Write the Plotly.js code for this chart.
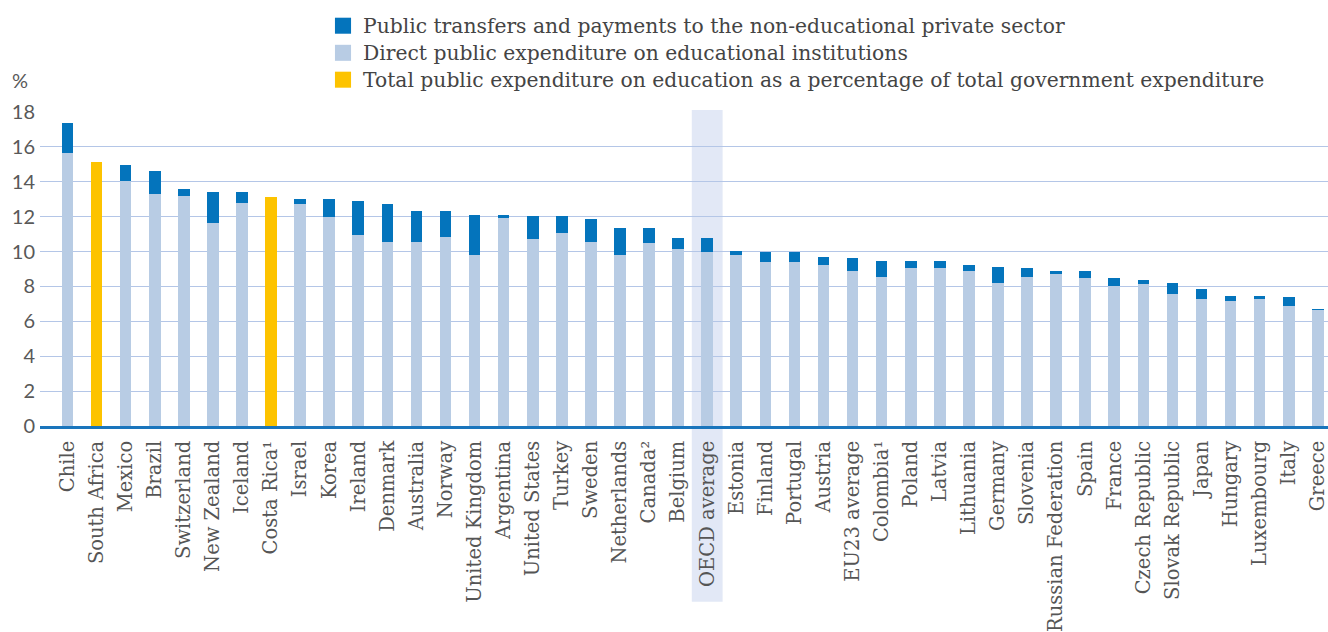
<!DOCTYPE html>
<html>
<head>
<meta charset="utf-8">
<script src="https://cdn.plot.ly/plotly-3.0.1.min.js"></script>
<style>html,body{margin:0;padding:0;background:#fff;}#chart{width:1328px;height:632px;}</style>
</head>
<body>
<div id="chart"></div>
<script>
var categories = ["Chile","South Africa","Mexico","Brazil","Switzerland","New Zealand","Iceland","Costa Rica¹","Israel","Korea","Ireland","Denmark","Australia","Norway","United Kingdom","Argentina","United States","Turkey","Sweden","Netherlands","Canada²","Belgium","OECD average","Estonia","Finland","Portugal","Austria","EU23 average","Colombia¹","Poland","Latvia","Lithuania","Germany","Slovenia","Russian Federation","Spain","France","Czech Republic","Slovak Republic","Japan","Hungary","Luxembourg","Italy","Greece"];

var directExpenditure = [15.63,null,14.05,13.29,13.21,11.61,12.79,null,12.70,11.97,10.96,10.54,10.54,10.81,9.80,11.90,10.70,11.04,10.54,9.80,10.47,10.12,9.95,9.80,9.40,9.40,9.23,8.88,8.54,9.06,9.06,8.87,8.22,8.54,8.71,8.48,8.05,8.14,7.57,7.30,7.15,7.30,6.88,6.63];

var transfersPrivate = [1.74,null,0.90,1.33,0.35,1.83,0.65,null,0.34,1.07,1.91,2.16,1.81,1.54,2.31,0.21,1.35,0.99,1.32,1.56,0.89,0.65,0.82,0.23,0.55,0.55,0.47,0.73,0.90,0.38,0.38,0.34,0.89,0.50,0.16,0.39,0.42,0.25,0.65,0.57,0.30,0.15,0.50,0.06];

var totalOnly = [null,15.12,null,null,null,null,null,13.10,null,null,null,null,null,null,null,null,null,null,null,null,null,null,null,null,null,null,null,null,null,null,null,null,null,null,null,null,null,null,null,null,null,null,null,null];

var seriesNames = ["Public transfers and payments to the non-educational private sector","Direct public expenditure on educational institutions","Total public expenditure on education as a percentage of total government expenditure"];
var seriesColors = ["#0474bc","#b8cce4","#fdc300"];
var highlightCategory = "OECD average";
var yTicks = [0,2,4,6,8,10,12,14,16,18];

var serif = "DejaVu Serif, serif";
var xIdx = categories.map(function(c, i){ return i; });

var traces = [
  {type:"bar", x:xIdx, y:directExpenditure, name:seriesNames[1], marker:{color:seriesColors[1]}, width:0.4, hoverinfo:"y"},
  {type:"bar", x:xIdx, y:transfersPrivate, name:seriesNames[0], marker:{color:seriesColors[0]}, width:0.4, hoverinfo:"y"},
  {type:"bar", x:xIdx, y:totalOnly, name:seriesNames[2], marker:{color:seriesColors[2]}, width:0.4, hoverinfo:"y"}
];

var hi = categories.indexOf(highlightCategory);
var shapes = [
  {type:"rect", xref:"x", yref:"paper", x0:hi-0.53, x1:hi+0.53, y0:-0.56, y1:1.006, fillcolor:"#e2e8f6", line:{width:0}, layer:"below"}
];
var annotations = [
  {xref:"paper", yref:"paper", x:-0.0155, y:1.1029, text:"%", showarrow:false, xanchor:"center", yanchor:"middle", font:{family:"Lato, sans-serif", size:20, color:"#595959"}}
];
var legendOrder = [0,1,2];
var legendY = [1.2748, 1.1885, 1.1029];
legendOrder.forEach(function(s, k){
  var yc = legendY[k];
  shapes.push({type:"rect", xref:"paper", yref:"paper", x0:0.2290, x1:0.2415, y0:yc-0.0255, y1:yc+0.0255, fillcolor:seriesColors[s], line:{width:0}});
  annotations.push({xref:"paper", yref:"paper", x:0.2492, y:yc, text:seriesNames[s], showarrow:false, xanchor:"left", yanchor:"middle", font:{family:serif, size:20.3, color:"#444444"}});
});

var layout = {
  width:1328, height:632,
  margin:{l:40, r:0, t:112, b:206},
  paper_bgcolor:"#ffffff", plot_bgcolor:"rgba(0,0,0,0)",
  barmode:"stack",
  showlegend:false,
  xaxis:{
    range:[-0.946, 43.35],
    tickmode:"array", tickvals:xIdx, ticktext:categories,
    tickangle:-90, ticks:"", showgrid:false, zeroline:false,
    showline:true, linecolor:"#1a75bc", linewidth:3,
    tickfont:{family:serif, size:19.5, color:"#555555"},
    ticklabelstandoff:4,
    ticklabeloverflow:"allow"
  },
  yaxis:{
    range:[0,18], tickmode:"array", tickvals:yTicks,
    showgrid:true, gridcolor:"#b4c6e7", gridwidth:1,
    zeroline:false, showline:false, ticks:"",
    tickfont:{family:"Lato, sans-serif", size:20, color:"#595959"},
    ticklabelstandoff:4
  },
  shapes:shapes,
  annotations:annotations
};

Plotly.newPlot("chart", traces, layout, {displayModeBar:false, staticPlot:true});
</script>
</body>
</html>
